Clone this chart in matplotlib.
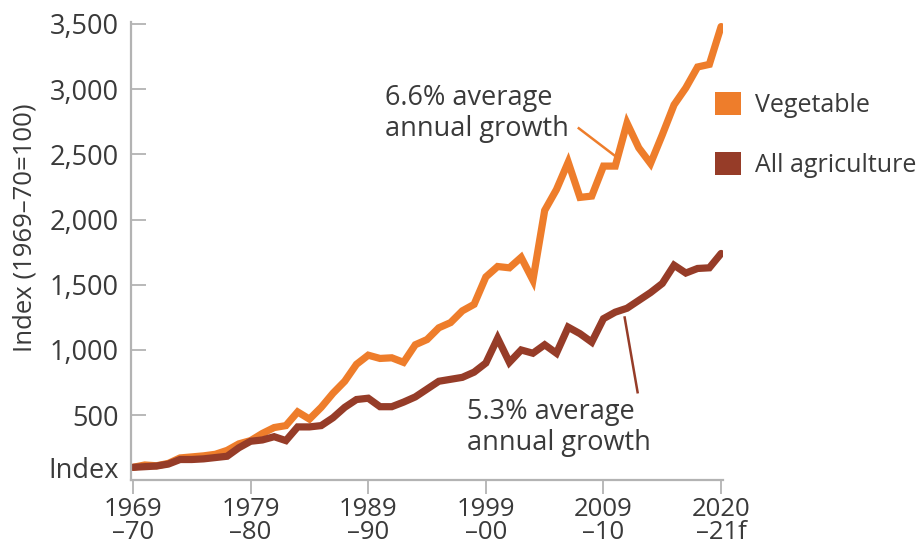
import matplotlib.pyplot as plt
from matplotlib.patches import Patch

plt.rcParams['font.family'] = ['Open Sans', 'DejaVu Sans']

# index values, 1969-70 = 100 (one point per marketing year, 1969-70 .. 2019-20/2020-21f)
vegetable = [100, 118, 112, 130, 172, 180, 188, 200, 230, 280,
             305, 360, 405, 420, 525, 470, 560, 668, 760, 890,
             960, 935, 940, 905, 1040, 1080, 1170, 1210, 1300, 1350,
             1560, 1640, 1630, 1710, 1535, 2070, 2230, 2440, 2170, 2180,
             2410, 2410, 2740, 2550, 2430, 2650, 2880, 3010, 3170, 3190,
             3480]
all_agri = [100, 105, 110, 125, 160, 160, 165, 175, 185, 250,
            300, 310, 335, 305, 410, 410, 420, 480, 560, 620,
            630, 565, 565, 600, 640, 700, 760, 775, 790, 830,
            900, 1090, 905, 1000, 975, 1040, 975, 1175, 1125, 1060,
            1240, 1290, 1320, 1380, 1440, 1510, 1650, 1590, 1625, 1630,
            1740]
xtick_labels = ['1969\n\u201370', '1979\n\u201380', '1989\n\u201390',
                '1999\n\u201300', '2009\n\u201310', '2020\n\u201321f']
ytick_vals = [100, 500, 1000, 1500, 2000, 2500, 3000, 3500]
ytick_labels = ['Index', '500', '1,000', '1,500', '2,000', '2,500', '3,000', '3,500']

c_veg = '#EE7D2B'
c_agr = '#963C28'
c_txt = '#3a3a3a'
c_axis = '#b3b3b3'

x = list(range(len(vegetable)))

fig = plt.figure(figsize=(9.18, 5.5), dpi=100)
ax = fig.add_axes([0.1427, 0.1273, 0.645, 0.8327])

ax.plot(x, vegetable, color=c_veg, lw=5.2, solid_joinstyle='miter', solid_capstyle='round')
ax.plot(x, all_agri, color=c_agr, lw=5.2, solid_joinstyle='miter', solid_capstyle='round')

ax.set_xlim(-0.17, 50.17)
ax.set_ylim(3, 3515)

ax.set_xticks(x[::10])
ax.set_xticklabels(xtick_labels, fontsize=18.5, color=c_txt, linespacing=0.9)
ax.set_yticks(ytick_vals)
ax.set_yticklabels(ytick_labels, fontsize=19.5, color=c_txt)
ax.tick_params(axis='x', direction='out', length=10, width=1.3, color=c_axis, pad=2)
ax.tick_params(axis='y', direction='in', length=11, width=1.3, color=c_axis, pad=9)

for s in ['top', 'right']:
    ax.spines[s].set_visible(False)
for s in ['left', 'bottom']:
    ax.spines[s].set_color(c_axis)
    ax.spines[s].set_linewidth(1.6)

ax.set_ylabel('Index (1969\u201370=100)', fontsize=18.5, color=c_txt)
ax.yaxis.set_label_coords(-0.158, 0.55)

# annotations
ax.text(21.4, 2816, '6.6% average\nannual growth', fontsize=19.5, color=c_txt,
        ha='left', va='center', linespacing=1.15)
ax.plot([37.9, 41.1], [2700, 2480], color=c_veg, lw=1.8)
ax.text(28.4, 404, '5.3% average\nannual growth', fontsize=19.5, color=c_txt,
        ha='left', va='center', linespacing=1.15)
ax.plot([41.8, 42.9], [1249, 676], color=c_agr, lw=1.8)

handles = [Patch(facecolor=c_veg, edgecolor='none', label='Vegetable'),
           Patch(facecolor=c_agr, edgecolor='none', label='All agriculture')]
leg = fig.legend(handles=handles, loc='upper left', bbox_to_anchor=(0.765, 0.855),
                 frameon=False, fontsize=18, handlelength=1.05, handleheight=1.05,
                 handletextpad=0.55, labelspacing=1.35, borderpad=0)
for t in leg.get_texts():
    t.set_color(c_txt)

fig.savefig('out.png', dpi=100)
